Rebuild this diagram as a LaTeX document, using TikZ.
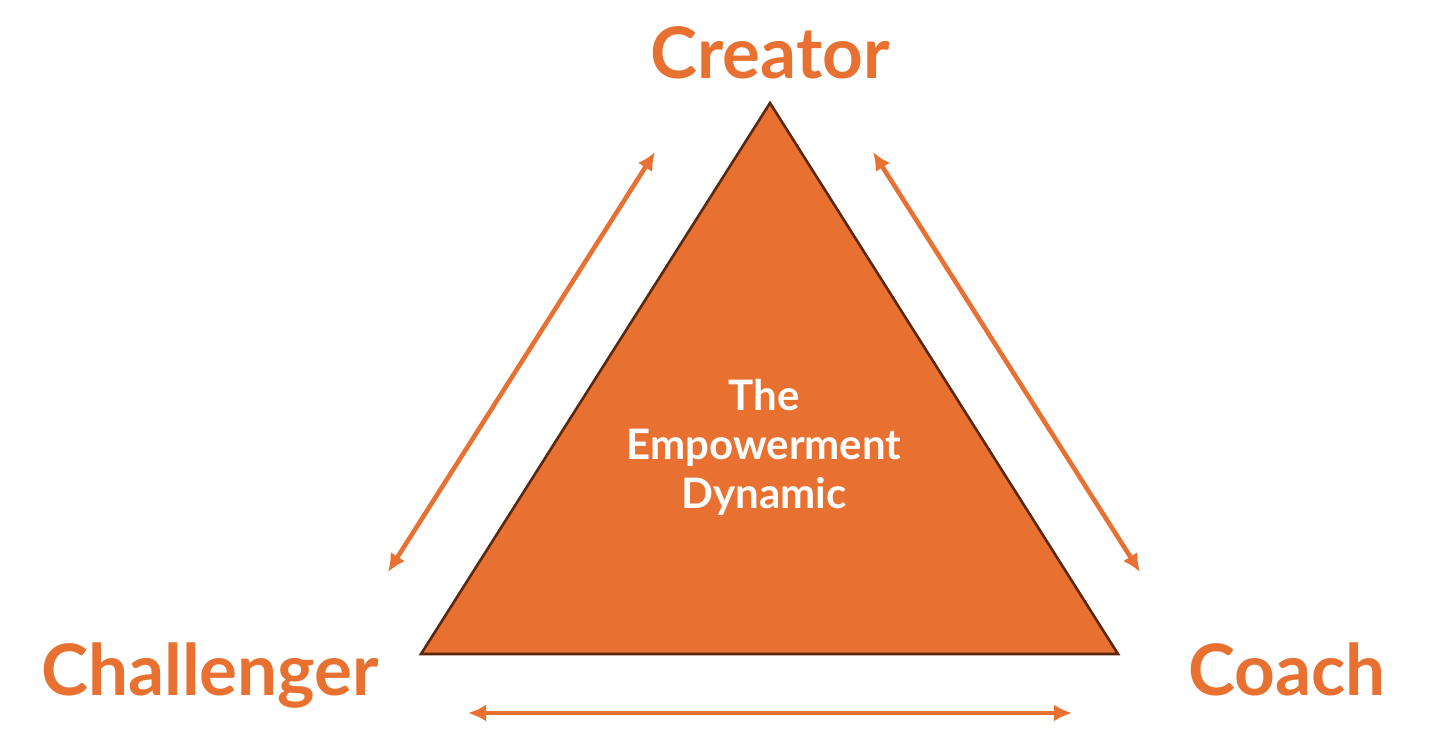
\documentclass[tikz,border=0pt]{standalone}
\usepackage{fontspec}
\setmainfont{Lato}
\usepackage{tikz}
\usetikzlibrary{arrows.meta}
\definecolor{edorange}{RGB}{232,113,50}
\definecolor{ededge}{RGB}{90,40,15}
\tikzset{
  role/.style={font=\fontsize{35.5}{40}\selectfont\bfseries, text=edorange, anchor=base, inner sep=0pt},
  core/.style={font=\fontsize{21}{24.5}\selectfont\bfseries, text=white, align=center, inner sep=0pt},
  tri/.style={fill=edorange, draw=ededge, line width=1.3pt, line join=miter},
  link/.style={{Latex[length=9pt,width=8.5pt]}-{Latex[length=9pt,width=8.5pt]}, draw=edorange, line width=2.3pt}
}
\begin{document}
\begin{tikzpicture}[x=0.5pt,y=-0.5pt]
  \useasboundingbox (0,0) rectangle (1456,730);

  % triangle corners
  \coordinate (top) at (770,103);
  \coordinate (bl) at (421,654);
  \coordinate (br) at (1118,654);
  \draw[tri] (top) -- (bl) -- (br) -- cycle;

  \node[core] (ted) at (764,447) {The\\Empowerment\\Dynamic};

  \node[role] (creator) at (770,78) {Creator};
  \node[role] (challenger) at (210,695) {Challenger};
  \node[role] (coach) at (1287,695) {Coach};

  % arrow ends
  \coordinate (la) at (388,572);
  \coordinate (lb) at (655,152);
  \coordinate (ra) at (873,152);
  \coordinate (rb) at (1140,572);
  \coordinate (ba) at (468,713);
  \coordinate (bb) at (1072,713);

  \draw[link] (la) -- (lb);
  \draw[link] (ra) -- (rb);
  \draw[link] (ba) -- (bb);
\end{tikzpicture}
\end{document}
